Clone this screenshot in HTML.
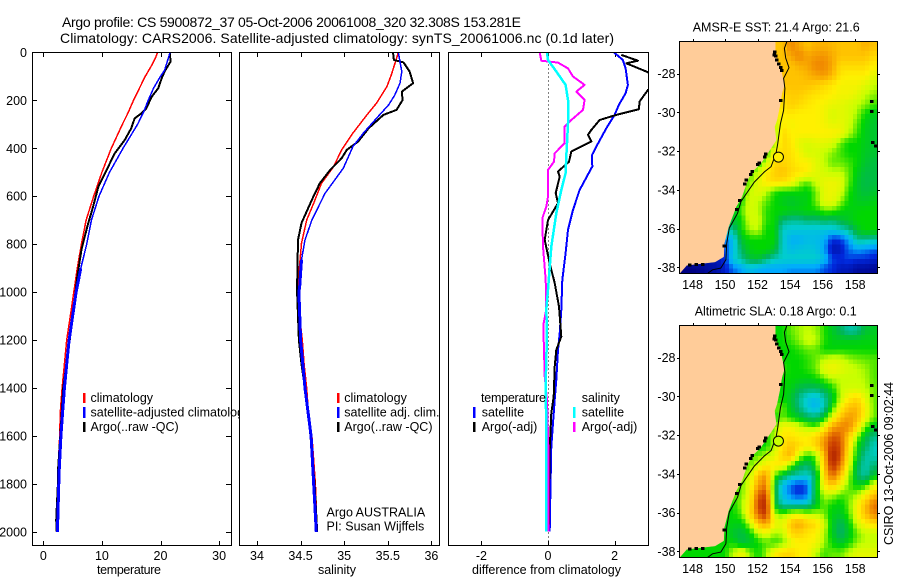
<!DOCTYPE html>
<html lang="en">
<head>
<meta charset="utf-8">
<title>Argo profile</title>
<style>
html,body{margin:0;padding:0;background:#fff;}
svg{display:block;}
text{font-family:"Liberation Sans",sans-serif;font-size:12px;fill:#000;}
.ttl{font-size:14px;}
.lbl{font-size:12.5px;}
</style>
</head>
<body>
<svg id="chart" xmlns="http://www.w3.org/2000/svg" width="900" height="580" viewBox="0 0 900 580">
<defs>
<clipPath id="clip-p1"><rect x="32" y="52" width="200" height="494"/></clipPath>
<clipPath id="clip-p2"><rect x="239" y="52" width="201" height="494"/></clipPath>
<clipPath id="clip-p3"><rect x="448" y="52" width="201" height="494"/></clipPath>
<clipPath id="clip-m1"><rect x="679.5" y="41.5" width="198" height="232"/></clipPath>
<clipPath id="clip-m2"><rect x="679.5" y="325.5" width="198" height="232"/></clipPath>
</defs>
<rect width="900" height="580" fill="#fff"/>
<g id="p1"></g>
<g id="p1legend">
<rect x="83" y="393" width="2.5" height="10" fill="#f00"/>
<text class="lbl" x="90.5" y="402">climatology</text>
<rect x="83" y="407" width="2.5" height="11" fill="#00f"/>
<text class="lbl" x="90.5" y="416.5">satellite-adjusted climatology</text>
<rect x="83" y="422" width="2.5" height="10" fill="#000"/>
<text class="lbl" x="90.5" y="431">Argo(..raw -QC)</text>
</g>
<g id="p2"></g>
<g id="p2legend">
<rect x="337" y="393" width="2.5" height="10" fill="#f00"/>
<text class="lbl" x="344.3" y="402">climatology</text>
<rect x="337" y="407" width="2.5" height="11" fill="#00f"/>
<text class="lbl" x="344.3" y="416.5">satellite adj. clim.</text>
<rect x="337" y="422" width="2.5" height="10" fill="#000"/>
<text class="lbl" x="344.3" y="431">Argo(..raw -QC)</text>
<text class="lbl" x="326.5" y="516.7">Argo AUSTRALIA</text>
<text class="lbl" x="326.5" y="530.7">PI: Susan Wijffels</text>
</g>
<g id="p3"></g>
<g id="p3legend">
<text class="lbl" x="481" y="402" textLength="65">temperature</text>
<rect x="473" y="407" width="2.5" height="11" fill="#00f"/>
<text class="lbl" x="481.7" y="416.5">satellite</text>
<rect x="473" y="422" width="2.5" height="10" fill="#000"/>
<text class="lbl" x="481.7" y="431">Argo(-adj)</text>
<text class="lbl" x="581.7" y="402">salinity</text>
<rect x="573" y="407" width="2.5" height="11" fill="#0ff"/>
<text class="lbl" x="581.7" y="416.5">satellite</text>
<rect x="573" y="422" width="2.5" height="10" fill="#f0f"/>
<text class="lbl" x="581.7" y="431">Argo(-adj)</text>
</g>
<g id="m1"></g>
<g id="m2"></g>
<text class="ttl" x="62" y="27" textLength="459">Argo profile: CS 5900872_37 05-Oct-2006 20061008_320 32.308S 153.281E</text>
<text class="ttl" x="60" y="43" textLength="554">Climatology: CARS2006. Satellite-adjusted climatology: synTS_20061006.nc (0.1d later)</text>
<text class="lbl" x="97" y="574" textLength="64">temperature</text>
<text class="lbl" x="318" y="574" textLength="38">salinity</text>
<text class="lbl" x="472" y="574" textLength="149">difference from climatology</text>
<text class="lbl" x="692.7" y="31.7" textLength="167">AMSR-E SST: 21.4 Argo: 21.6</text>
<text class="lbl" x="694.7" y="315.7" textLength="162">Altimetric SLA: 0.18 Argo: 0.1</text>
<text class="lbl" transform="translate(893,545) rotate(-90)" textLength="163">CSIRO 13-Oct-2006 09:02:44</text>
</svg>
<script>
// ---------- profile data ----------
const depthTicks = [0,200,400,600,800,1000,1200,1400,1600,1800,2000];
const tempTicks = [0,10,20,30];
const salTicks = [34,34.5,35,35.5,36];
const salTickLabels = ['34','34.5','35','35.5','36'];
const diffTicks = [-2,0,2];

const climDepth = [0,20,50,75,100,125,150,200,250,300,400,500,600,700,800,900,1000,1100,1200,1300,1400,1500,1600,1750,2000];
const tempClim = [19.5,19.2,18.6,18.0,17.4,16.9,16.4,15.4,14.5,13.5,11.6,10.0,8.6,7.3,6.5,5.8,5.2,4.6,4.0,3.6,3.2,2.9,2.8,2.5,2.4];
const tempSat = [21.6,21.4,21,20.7,20.0,19.4,18.8,17.9,17.1,16.1,13.6,11.3,9.5,8.2,7.4,6.4,5.6,5,4.4,4,3.6,3.3,3.0,2.7,2.4];
const tempArgoDepth = [0,39,80,108,150,185,233,254,275,317,365,421,490,560,643,726,824,935,1000,1200,1400,1600,1750,1800,1950,2000];
const tempArgo = [21.6,21.7,20.7,20.2,19.6,18.5,17.6,16.8,15.6,15,13.9,12.2,10.8,9.4,8.5,7.5,6.5,5.8,5.5,4.5,3.4,2.9,2.5,2.5,2.2,2.3];

const salClimDepth = [0,26,94,143,212,261,337,407,476,546,629,699,796,921,1000,1100,1200,1300,1400,1500,1600,1700,1800,1900,2000];
const salClim = [35.62,35.60,35.54,35.49,35.37,35.26,35.10,34.97,34.88,34.74,34.65,34.57,34.51,34.48,34.47,34.49,34.52,34.54,34.57,34.59,34.63,34.65,34.67,34.68,34.68];
const salSatDepth = [0,39,80,129,178,219,275,337,393,483,588,699,782,865,976,1000,1200,1400,1600,1800,2000];
const salSat = [35.62,35.64,35.66,35.64,35.58,35.51,35.37,35.22,35.10,34.99,34.78,34.63,34.55,34.51,34.49,34.48,34.50,34.55,34.62,34.65,34.68];
const salArgoDepth = [0,32,42,80,129,164,199,240,261,317,372,407,442,490,546,615,712,782,976,1000,1100,1200,1300,1500,1800,2000];
const salArgo = [35.56,35.57,35.68,35.75,35.79,35.66,35.67,35.60,35.45,35.28,35.16,35.03,34.97,34.84,34.72,34.63,34.51,34.47,34.46,34.46,34.47,34.48,34.51,34.59,34.66,34.69];

const diffTempSatDepth = [0,32,67,136,171,219,261,317,393,428,476,574,657,740,837,949,1074,1171,1240,1365,1449,1546,1643,1851,1997];
const diffTempSat = [1.98,2.25,2.33,2.4,2.33,2.13,2.0,1.75,1.45,1.32,1.33,0.95,0.75,0.6,0.53,0.43,0.4,0.35,0.3,0.25,0.2,0.15,0.1,0.07,0.05];
const diffTempArgoDepth = [11,35,46,83,120,157,205,237,261,282,324,344,372,414,456,497,518,587,629,699,782,879,962,1060,1185,1240,1310,1435,1504,1657,1850,1997];
const diffTempArgo = [2.2,2.7,2.35,3.0,3.5,3.0,2.75,2.73,2.05,1.55,1.3,1.2,1.3,0.7,0.63,0.3,0.35,0.23,0.3,0,-0.1,0.05,0.2,0.33,0.4,0.25,0.2,0.17,0.1,0.05,0.03,0.02];
const diffSalSatDepth = [0,32,80,136,199,296,435,504,574,671,810,990,1071,1171,1379,1590,1997];
const diffSalSat = [-0.03,0,0.25,0.53,0.6,0.6,0.55,0.53,0.4,0.25,0.1,0,-0.05,-0.03,-0.07,-0.05,-0.05];
const diffSalArgoDepth = [0,35,43,67,101,136,164,199,240,282,310,379,421,456,490,601,643,692,810,949,1071,1129,1199,1351,1449,1700,1997];
const diffSalArgo = [-0.25,-0.2,0.3,0.6,0.75,1.1,0.85,1.1,1.05,0.7,0.5,0.5,0.2,0.18,0,0,-0.05,-0.17,-0.15,-0.07,-0.05,-0.13,-0.13,-0.1,-0.03,0.02,0.02];

// ---------- map data: colour levels, rows north to south, right-aligned to the east edge ----------
const lonTicks = [148,150,152,154,156,158];
const latTicks = [28,30,32,34,36,38];
const colourLevels = [[0,0,130],[0,40,220],[0,170,255],[0,205,205],[0,180,90],[0,215,0],[200,255,0],[255,240,0],[255,195,0],[240,135,0],[205,65,0],[170,30,0]];
const sstLevels = [
[8,9,8.5,8,8.3,8.3,8.2,8,8,8,8.3,8],
[8,8.5,9,8.5,8.7,8.8,8.4,8,8,8,8,7.5],
[8,8,8.3,8.5,9,9,8.5,7.5,7.5,7.5,7.5,7],
[8,8,8,8.2,8.5,8.7,8.2,7.2,7,7,7,6.5],
[8,8,8,8,7.8,7.5,7.2,6.8,6.8,6.8,6.5,6],
[7.5,7.8,7.8,7.5,7.3,7.2,7,6.8,6.8,6.5,6,5.7],
[7.3,7.7,7.5,7.2,7,6.8,6.6,6.5,6.3,6,5.7,5.3],
[7,7.2,7,7,7,6.8,6.3,6.5,6.3,5.8,5,4.7],
[6,7,6.8,7,7,7,6.8,6.5,6.6,6.2,5.5,4.8,4.5],
[5.5,7.5,7,7,7,7,7,7,6.8,6,5.3,4.7,4.5],
[5,5.8,7.5,7.2,6.5,6.3,6.5,6.5,6.3,5.5,5,5,4.7,4.5],
[5,7,7.5,7.3,6.8,6.2,6.3,6,5.7,5.3,5,5,4.6,4.5],
[5,6,7.5,7.6,7.4,7,7,6.5,6,5.5,5.5,5.3,5,4.5,4.3],
[5.5,6,7,7.7,8,7.5,7.3,7,6.5,6.2,6,6,5.5,4.8,4.3,4.3],
[5.5,6.5,7.2,7.5,7.4,7,6,5.5,6.2,6.6,6.7,6.5,5.5,4.6,4.2,4.3],
[5,6,6.5,6,5.2,5,5,5,4.8,5.5,6.5,6.7,6.3,5.2,4.6,4.3,4.5],
[5,6.3,6,5.5,5,4.7,4.5,4.7,4.8,5.5,6.5,6.6,5.8,5,4.7,4.6,4.8],
[4.5,5.5,6.2,6,5.2,5,5,4.8,4.8,5,5,5.5,5.5,5,4.8,4.9,5,5],
[4.5,5,6.2,6.2,5.2,5,3.8,3.5,3.5,3.8,3.7,4,3.8,4.3,4.6,5,5,5],
[3,3.5,5,5.8,6,5,5,3,2.8,2.8,2.7,2.7,2.7,2.7,3,3.5,4.5,5,5],
[1.5,2.5,4.5,5,5,5,5,3,2.2,2.2,2.5,2.5,2.2,1,1.1,2,3.5,3.5,3.3],
[1.2,2.5,4,4.8,5,5,4.5,3,2.5,2.7,2.8,2.7,2,0.5,0.6,1.5,2,1.8,1.5],
[0.5,1,2.8,3.5,4.3,4.5,3.8,3.2,3,3,3,3,3,2.5,1.2,1,1.2,1,1,0.8],
[0,0,0.1,0.3,0.4,0.8,1.5,2,2.5,2.2,2,2,2,1.8,1.8,1.8,1.8,1.3,1,0.6,0.6,0.3,0.3,0.2]
];
const slaLevels = [
[5,5.5,5.8,6,5.8,5.2,4.6,4,3.3,3.5,4.4,4.6],
[5,5.3,5.7,6.2,6,5.2,4.8,4.7,4.7,4.7,4.8,4.8],
[5,5,5.2,5.5,5.5,5,4.9,5,5,5,5,5],
[5,5,5,5.2,5.5,6,6.3,6.2,5.8,5.6,5.5,5.4],
[5.2,5,5,5.2,5.5,6.5,6.8,6.5,6.2,6,5.8,5.4],
[5,5,4.9,4.8,5,5.5,6,6,6,6,5.9,5.4],
[5,4.8,4.2,4,4,4.3,5,6,6.2,6.2,6,5.5],
[5,4.5,3.6,2.8,2.5,3.3,4.5,6,7,7.5,6.5,5.5],
[5.5,4.6,3.7,2.8,2.3,3.2,5,6.8,8,8.2,7,5.5],
[5,5.5,5,4.6,4,3.8,4.6,6.5,8,8.7,8.3,6.8,5.5],
[5.5,6.8,6.8,6.3,5.8,5.5,6.7,8.5,9,9,7.5,5.5,4.6],
[5,6,7.2,7.3,7,7,7.5,8.5,9.7,9.5,7.8,5.8,4.4,3.6],
[5,6,7.3,8,7.5,7,7.6,8.8,10.3,9.8,7.5,5,4,3.1],
[5.5,6,6.5,7.7,8.3,6,5,5.5,8,11,9.8,7,4.8,3.4,3.2],
[5.5,6.2,7,7.2,7,5.5,4.3,3.8,5,7.8,10.5,9.2,6.6,4.2,3.2,3.8],
[5.5,6,8,8.8,5.5,4.3,3.5,3.2,3,4,7.5,9.5,8,6,4,3.3,4.6],
[5.5,6.5,8.5,9.2,4.6,2.5,1.5,1,1.5,4.5,7,8,6.8,5.5,4.8,5,6.5],
[5.5,6.8,9.5,10,4.6,2.5,1.5,1,1.5,4.5,6,6,5.4,5.5,5.8,6.8,8],
[5,5.8,7,10,10.7,4.6,3.2,3,3,3.2,4.5,5.5,5,4.8,5.5,6.8,8,9.3],
[5,5,5.5,7.3,9.5,10.3,6,5.5,6.3,6.5,6,6,5.6,4.8,4.6,5.3,6.8,8,9],
[5,4.8,4.8,6,8,8.7,6.8,6.5,8,8.5,7.8,7.5,6.3,4.7,4,4.8,6.2,7,7.5],
[5,4.5,4.2,4.8,6,6.5,5.8,6,7.5,7.7,7.2,7,6,4.7,3.8,4.6,5.5,6,6],
[5,5,5,4.3,4.5,5,5.4,5.2,5.5,6.5,7,7,6.8,5.8,5,4.5,5,5.7,6,6],
[5,5,5,5,5,5,6,6.8,5.7,5,5.7,7,7.5,7.6,7,7,6,5.3,5.5,5.5,6,6.5,6.5,6.5]
];
const coastLon = [153.08,153.08,153.18,153.43,153.49,153.64,153.49,153.35,153.18,153.04,153.14,152.88,152.47,152.16,151.65,151.38,151.03,150.68,150.21,149.95,149.91,149.39,147.65,147.2];
const coastLat = [26.35,26.97,27.31,27.66,28,28.6,29.03,29.72,30.41,30.75,31.44,31.78,32.3,32.67,33.07,33.5,34.36,34.87,35.9,36.76,37.45,37.71,37.88,38.31];
const isobathLon = [153.8,153.65,153.73,153.93,153.6,153.68,153.6,153.4,153.24,153.14,152.83,152.42,151.8,150.98,150.77,150.26,150.1,150.05,149.74,149.23,148.92];
const isobathLat = [26.35,26.7,27.2,27.7,28.25,28.77,29.9,30.6,31.6,32.1,32.8,33.07,33.6,34.6,35.2,35.97,36.76,37.6,38.03,38.12,38.31];
const islandLon = [153.05,153.1,153.02,153.17,153.3,153.42,153.46,153.4,152.5,152.42,152.1,152,151.65,151.55,151.3,151.2,150.9,150.7,149.92,148.6,148.2,147.8,159.0,159.0,159.05,159.25];
const islandLat = [26.9,27.1,27.05,27.3,27.5,27.7,27.85,29.4,32.15,32.3,32.62,32.68,33.05,33.2,33.5,33.7,34.55,35,36.9,37.85,37.85,37.88,29.45,29.95,31.55,31.75];
const argoLon = 153.281;
const argoLat = 32.308;
const argoSstLevel = 7;
const argoSlaLevel = 6;

// ---------- helpers ----------
const svg = document.getElementById('chart');
const NS = 'http://www.w3.org/2000/svg';
function mk(parent, tag, attrs, txt) {
  const e = document.createElementNS(NS, tag);
  for (const k in attrs) e.setAttribute(k, attrs[k]);
  if (txt !== undefined) e.textContent = txt;
  parent.appendChild(e);
  return e;
}
const yDepth = d => 52.3 + d * 0.2399;
const xTemp = v => 43.3 + v * 5.86;
const xSal = v => 257 + (v - 34) * 87.2;
const xDiff = v => 548 + v * 33.3;

function drawLine(group, clip, xf, depths, vals, colour, width, name) {
  const p = depths.map((d, i) => xf(vals[i]).toFixed(1) + ',' + yDepth(d).toFixed(1)).join(' ');
  const l = mk(group, 'polyline', {points: p, fill: 'none', stroke: colour, 'stroke-width': width, 'clip-path': 'url(#' + clip + ')', 'shape-rendering': 'crispEdges', 'stroke-linejoin': 'round'});
  
  
}
function drawDeep(group, clip, xf, depths, vals, colour, width, fromDepth, name) {
  const p = [];
  depths.forEach((d, i) => { if (d >= fromDepth) p.push(xf(vals[i]).toFixed(1) + ',' + yDepth(d).toFixed(1)); });
  const l = mk(group, 'polyline', {points: p.join(' '), fill: 'none', stroke: colour, 'stroke-width': width, 'clip-path': 'url(#' + clip + ')', 'shape-rendering': 'crispEdges'});
  
  
}

function drawPanel(id, left, width, xf, ticks, labels) {
  const g = document.getElementById(id);
  const bg = mk(g, 'rect', {x: left, y: 52.5, width: width, height: 493, fill: '#fff'});
  
  
  ticks.forEach((t, i) => {
    const x = Math.round(xf(t)) + 0.5;
    const tb = mk(g, 'line', {x1: x, x2: x, y1: 541, y2: 545.5, stroke: '#000'});
    
    
    const tt = mk(g, 'line', {x1: x, x2: x, y1: 52.5, y2: 57, stroke: '#000'});
    
    
    const lb = mk(g, 'text', {x: xf(t), y: 560, 'text-anchor': 'middle', 'class': 'lbl'}, labels[i]);
    
    
  });
  return g;
}
function frame(g, left, width) {
  const f = mk(g, 'rect', {x: left, y: 52.5, width: width, height: 493, fill: 'none', stroke: '#000', 'shape-rendering': 'crispEdges'});
  
  
}

// ---------- panel 1 ----------
const g1 = drawPanel('p1', 32.5, 199, xTemp, tempTicks, tempTicks.map(String));
depthTicks.forEach(d => {
  const y = Math.round(yDepth(d)) + 0.5;
  const a = mk(g1, 'line', {x1: 32.5, x2: 37, y1: y, y2: y, stroke: '#000'});
  
  
  const b = mk(g1, 'line', {x1: 226, x2: 231.5, y1: y, y2: y, stroke: '#000'});
  
  
  const t = mk(g1, 'text', {x: 27, y: yDepth(d) + 4.5, 'text-anchor': 'end', 'class': 'lbl'}, String(d));
  
  
});
drawLine(g1, 'clip-p1', xTemp, climDepth, tempClim, '#f00', 1.5, 'temperature-climatology-line');
drawLine(g1, 'clip-p1', xTemp, tempArgoDepth, tempArgo, '#000', 2, 'temperature-argo-line');
drawLine(g1, 'clip-p1', xTemp, climDepth, tempSat, '#00f', 1.5, 'temperature-satellite-line');
drawDeep(g1, 'clip-p1', xTemp, climDepth, tempSat, '#00f', 3, 900, 'temperature-satellite-line-deep');
frame(g1, 32.5, 199);

// ---------- panel 2 ----------
const g2 = drawPanel('p2', 239.5, 200, xSal, salTicks, salTickLabels);
drawLine(g2, 'clip-p2', xSal, salClimDepth, salClim, '#f00', 1.5, 'salinity-climatology-line');
drawLine(g2, 'clip-p2', xSal, salArgoDepth, salArgo, '#000', 2, 'salinity-argo-line');
drawLine(g2, 'clip-p2', xSal, salSatDepth, salSat, '#00f', 1.5, 'salinity-satellite-line');
drawDeep(g2, 'clip-p2', xSal, salSatDepth, salSat, '#00f', 3, 865, 'salinity-satellite-line-deep');
frame(g2, 239.5, 200);

// ---------- panel 3 ----------
const g3 = drawPanel('p3', 448.5, 200, xDiff, diffTicks, diffTicks.map(String));
const zero = mk(g3, 'line', {x1: xDiff(0) + 0.5, x2: xDiff(0) + 0.5, y1: 52.5, y2: 545.5, stroke: '#000', 'stroke-dasharray': '1 3'});


drawLine(g3, 'clip-p3', xDiff, diffTempSatDepth, diffTempSat, '#00f', 2, 'difference-temperature-satellite-line');
drawLine(g3, 'clip-p3', xDiff, diffTempArgoDepth, diffTempArgo, '#000', 2, 'difference-temperature-argo-line');
drawLine(g3, 'clip-p3', xDiff, diffSalArgoDepth, diffSalArgo, '#f0f', 2, 'difference-salinity-argo-line');
drawLine(g3, 'clip-p3', xDiff, diffSalSatDepth, diffSalSat, '#0ff', 2.5, 'difference-salinity-satellite-line');
frame(g3, 448.5, 200);

// ---------- maps ----------
const LON0 = 147.2, LON1 = 159.37, LAT0 = 26.35, LAT1 = 38.31;
const MAPL = 679.5, MAPW = 198, MAPH = 232;
function levelColour(v) {
  const c = Math.max(0, Math.min(colourLevels.length - 1, v));
  const i = Math.min(colourLevels.length - 2, Math.floor(c));
  const f = c - i;
  const a = colourLevels[i], b = colourLevels[i + 1];
  return 'rgb(' + [0, 1, 2].map(k => Math.round(a[k] + (b[k] - a[k]) * f)).join(',') + ')';
}
function cellValue(grid, c, r) {
  const row = grid[Math.max(0, Math.min(23, r))];
  const off = 24 - row.length;
  return row[Math.max(0, Math.min(23, c) - off)];
}
function sampleValue(grid, u, v) {
  const c = Math.floor(u), r = Math.floor(v), fu = u - c, fv = v - r;
  return cellValue(grid, c, r) * (1 - fu) * (1 - fv) + cellValue(grid, c + 1, r) * fu * (1 - fv)
       + cellValue(grid, c, r + 1) * (1 - fu) * fv + cellValue(grid, c + 1, r + 1) * fu * fv;
}
function drawMap(id, clip, top, grid, argoLevel) {
  const g = document.getElementById(id);
  const mx = lon => MAPL + (lon - LON0) * MAPW / (LON1 - LON0);
  const my = lat => top + (lat - LAT0) * MAPH / (LAT1 - LAT0);
  const inner = mk(g, 'g', {'clip-path': 'url(#' + clip + ')'});
  
  
  const sub = 2, step = 24 * sub;
  const cw = MAPW / step, ch = MAPH / step;
  for (let j = 0; j < step; j++) {
    for (let i = 0; i < step; i++) {
      const u = (i + 0.5) / sub - 0.5, v = (j + 0.5) / sub - 0.5;
      const cell = mk(inner, 'rect', {x: (MAPL + i * cw).toFixed(2), y: (top + j * ch).toFixed(2), width: (cw + 0.6).toFixed(2), height: (ch + 0.6).toFixed(2), fill: levelColour(sampleValue(grid, u, v)), 'shape-rendering': 'crispEdges'});
      
      
    }
  }
  const coastPts = coastLon.map((lon, i) => mx(lon).toFixed(1) + ',' + my(coastLat[i]).toFixed(1));
  const land = mk(inner, 'polygon', {points: coastPts.join(' ') + ' ' + MAPL + ',' + (top + MAPH) + ' ' + MAPL + ',' + top, fill: '#ffcc99', stroke: '#ffcc99', 'stroke-width': 0.5});
  
  
  islandLon.forEach((lon, i) => {
    const s = mk(inner, 'rect', {x: mx(lon) - 1.5, y: my(islandLat[i]) - 1.5, width: 3.5, height: 3, fill: '#000', 'shape-rendering': 'crispEdges'});
    
    
  });
  const iso = mk(inner, 'polyline', {points: isobathLon.map((lon, i) => mx(lon).toFixed(1) + ',' + my(isobathLat[i]).toFixed(1)).join(' '), fill: 'none', stroke: '#000', 'stroke-width': 1});
  
  
  const pin = mk(inner, 'circle', {cx: mx(argoLon), cy: my(argoLat), r: 5, fill: levelColour(argoLevel), stroke: '#000', 'stroke-width': 1});
  
  
  const fr = mk(g, 'rect', {x: MAPL, y: top, width: MAPW, height: MAPH, fill: 'none', stroke: '#000', 'shape-rendering': 'crispEdges'});
  
  
  lonTicks.forEach(lon => {
    const x = Math.round(mx(lon)) + 0.5;
    const t = mk(g, 'line', {x1: x, x2: x, y1: top - 2.5, y2: top, stroke: '#000'});
    
    
    const l = mk(g, 'text', {x: mx(lon), y: top + MAPH + 15.5, 'text-anchor': 'middle', 'class': 'lbl'}, String(lon));
    
    
  });
  latTicks.forEach(lat => {
    const y = Math.round(my(lat)) + 0.5;
    const a = mk(g, 'line', {x1: MAPL - 2.5, x2: MAPL, y1: y, y2: y, stroke: '#000'});
    
    
    const b = mk(g, 'line', {x1: MAPL + MAPW, x2: MAPL + MAPW + 2.5, y1: y, y2: y, stroke: '#000'});
    
    
    const l = mk(g, 'text', {x: 675.5, y: my(lat) + 4.5, 'text-anchor': 'end', 'class': 'lbl'}, '-' + lat);
    
    
  });
}
drawMap('m1', 'clip-m1', 41.5, sstLevels, argoSstLevel);
drawMap('m2', 'clip-m2', 325.5, slaLevels, argoSlaLevel);
</script>
</body>
</html>
